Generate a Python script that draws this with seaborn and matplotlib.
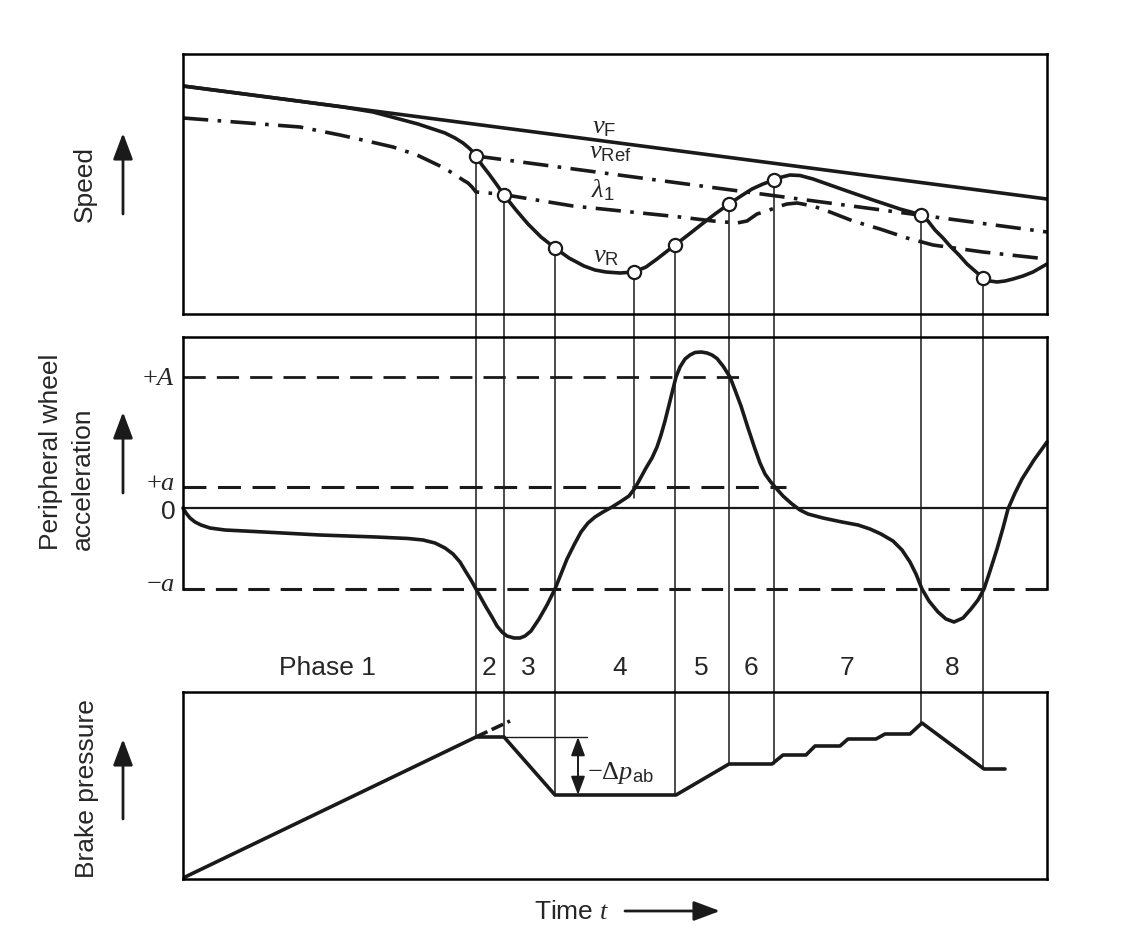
import matplotlib
matplotlib.use("Agg")
import matplotlib.pyplot as plt
import seaborn as sns
from matplotlib.patches import ConnectionPatch
from matplotlib.transforms import blended_transform_factory

# all axes are schematic, arbitrary units (time 0..864)
T_END = 864

# speed panel
vF_t = [0, 864]
vF = [228, 115]
vR_t = [0, 100, 160, 190, 205, 220, 235, 250, 262, 272, 280, 286, 290, 293, 299,
        306, 314, 321, 333, 345, 358, 372, 386, 401, 412, 423, 437, 451, 463,
        474, 483, 492, 505, 519, 532, 546, 558, 569, 580, 591, 599, 607, 617,
        630, 647, 664, 690, 717, 728, 738, 745, 752, 760, 767, 776, 784, 792,
        800, 807, 814, 822, 830, 840, 850, 857, 864]
vR = [228, 215, 207, 202, 198, 194, 190, 185, 181, 176, 171, 166, 162, 158, 149,
      140, 129, 119, 104, 90, 77, 66, 56, 48, 44, 42, 41, 42, 47,
      55, 62, 69, 79, 90, 100, 110, 118, 125, 130, 134, 137, 139, 138.5,
      135, 129, 123, 114, 105, 102, 99, 93, 84, 76, 68, 59, 50, 43,
      36, 33, 32, 33, 35, 38, 42, 46, 50]
vRef_t = [293, 864]
vRef = [158, 82]
lam_t = [0, 117, 157, 184, 210, 234, 257, 266, 274, 280, 285, 289, 293, 317, 390,
         497, 530, 554, 564, 574, 584, 594, 604, 614, 630, 647, 670, 697, 724,
         750, 800, 864]
lam = [196, 187, 179, 173, 167, 159, 148, 143, 138, 134, 131, 127, 122, 120, 108,
       97, 93, 91, 93, 100, 103, 107, 110, 111, 108, 102, 93, 85, 76,
       69, 62, 55]

# control events (circles on v_R) and where their guide lines end
event_t = [293, 321, 372, 451, 492, 546, 591, 738, 800]
event_v = [158, 119, 66, 42, 69, 110, 134, 99, 36]
event_end_panel = ["p", "p", "p", "a", "p", "p", "p", "p", "p"]
event_end = [141, 141, 83, 10, 83, 114, 114, 155, 109]

# peripheral wheel acceleration
acc_t = [0, 3, 7, 12, 18, 27, 42, 81, 137, 193, 225, 240, 252, 262, 270, 277,
         283, 288, 293, 298, 303, 309, 314, 319, 324, 331, 337, 342, 348, 356,
         364, 372, 378, 384, 391, 398, 405, 412, 420, 429, 437, 446, 452, 457,
         463, 469, 474, 478, 482, 485, 489, 493, 497, 502, 507, 512, 518, 524, 529,
         534, 540, 547, 552, 558, 565, 572, 577, 582, 587, 592, 600, 609, 617,
         625, 640, 659, 675, 687, 698, 710, 719, 727, 733, 739, 746, 755, 763,
         771, 780, 788, 795, 801, 807, 814, 820, 825, 832, 839, 851, 864]
acc = [0, -5, -10, -14, -17, -20, -22, -24, -27, -29, -30.5, -32, -35, -40, -46, -54,
       -64, -72, -81, -90, -99, -109, -118, -124, -128, -130, -130, -128, -123, -111,
       -97, -81, -66, -51, -37, -24, -15, -9, -4, 1, 6, 12, 20, 29,
       40, 50, 61, 73, 87, 99, 115, 131, 141, 149, 153, 155.5, 156, 155, 153,
       149.5, 142, 131, 118, 102, 80, 59, 45, 34, 27, 21, 12, 4, -2,
       -6, -10, -14, -17, -21, -26, -33, -42, -54, -66, -81, -93, -104, -111,
       -114, -110, -101, -92, -81, -63, -41, -20, -1, 15, 29, 48, 66]
A_hi, a_hi, a_lo = 131, 21, -81
A_hi_end, a_hi_end = 558, 603

# brake pressure
p_t = [0, 293, 321, 372, 493, 546, 589, 600, 623, 632, 657, 665, 693, 702, 727,
       739, 801, 822]
p = [0, 141, 141, 83, 83, 114, 114, 123, 123, 132, 132, 139, 139, 144, 144,
     155, 109, 109]
p_ext_t = [293, 327]
p_ext = [141, 157]
dp_t, dp_top, dp_bottom = 395, 141, 83

phase_labels = ["Phase 1", "2", "3", "4", "5", "6", "7", "8"]
phase_t = [144, 306, 345, 437, 518, 568, 664, 769]

sns.set_theme(style="white")
plt.rcParams["font.family"] = ["Liberation Sans", "DejaVu Sans"]
plt.rcParams["mathtext.fontset"] = "custom"
plt.rcParams["mathtext.rm"] = "Liberation Serif"
plt.rcParams["mathtext.it"] = "Liberation Serif:italic"
plt.rcParams["mathtext.sf"] = "Liberation Sans"
plt.rcParams["mathtext.bf"] = "Liberation Serif:bold"

FS = 19
LW = 2.6
fig = plt.figure(figsize=(11.32, 9.53), dpi=100)
fig.patch.set_facecolor("white")

W, H = 1132, 953
def box(x0, y0, x1, y1):
    return [x0 / W, 1 - y1 / H, (x1 - x0) / W, (y1 - y0) / H]

ax1 = fig.add_axes(box(183, 55, 1047, 315))
ax2 = fig.add_axes(box(183, 338, 1047, 590))
ax3 = fig.add_axes(box(183, 693, 1047, 880))
for ax in (ax1, ax2, ax3):
    ax.set_facecolor("none")
    ax.set_xlim(0, T_END)
    ax.set_xticks([])
    ax.set_yticks([])
    for s in ax.spines.values():
        s.set_color("black")
        s.set_linewidth(1.8)
ax1.set_ylim(0, 260)
ax2.set_ylim(-81, 171)
ax3.set_ylim(-1, 186)
ax2.spines["bottom"].set_visible(False)

# --- speed
sns.lineplot(x=vF_t, y=vF, ax=ax1, color="k", lw=LW, estimator=None, sort=False)
sns.lineplot(x=vR_t, y=vR, ax=ax1, color="k", lw=LW, estimator=None, sort=False)
sns.lineplot(x=vRef_t, y=vRef, ax=ax1, color="k", lw=LW, estimator=None, sort=False,
             linestyle=(0, (7, 2.6, 1, 2.6)))
sns.lineplot(x=lam_t, y=lam, ax=ax1, color="k", lw=LW, estimator=None, sort=False,
             linestyle=(0, (7, 2.6, 1, 2.6)))
sns.scatterplot(x=event_t, y=event_v, ax=ax1, s=90, color="white",
                edgecolor="k", linewidth=1.6, zorder=5)
ax1.text(409, 182, r"$v_\mathsf{F}$", fontsize=FS, ha="left", va="baseline")
ax1.text(406, 157, r"$v_\mathsf{Ref}$", fontsize=FS, ha="left", va="baseline")
ax1.text(408, 118, r"$\lambda_\mathsf{1}$", fontsize=FS, ha="left", va="baseline")
ax1.text(410, 53, r"$v_\mathsf{R}$", fontsize=FS, ha="left", va="baseline")

# --- acceleration
ax2.plot([0, A_hi_end], [A_hi, A_hi], color="k", lw=2.0, linestyle=(0, (8, 4)))
ax2.plot([0, a_hi_end], [a_hi, a_hi], color="k", lw=2.2, linestyle=(0, (7.5, 3.8)))
ax2.axhline(0, color="k", lw=1.6)
ax2.plot([0, T_END], [a_lo, a_lo], color="k", lw=2.2, linestyle=(0, (7, 3.6)),
         clip_on=False)
sns.lineplot(x=acc_t, y=acc, ax=ax2, color="k", lw=LW, estimator=None, sort=False,
             clip_on=False)
tr = blended_transform_factory(ax2.transAxes, ax2.transData)
for val, lab in [(A_hi, r"$+A$"), (a_hi + 5, r"$+a$"), (-3, "0"), (a_lo + 6, r"$-a$")]:
    ax2.text(-0.009, val, lab, transform=tr, fontsize=FS, ha="right", va="center")

# --- brake pressure
sns.lineplot(x=p_t, y=p, ax=ax3, color="k", lw=LW, estimator=None, sort=False)
ax3.plot(p_ext_t, p_ext, color="k", lw=LW, linestyle=(0, (3.5, 1.3)))
ax3.plot([321, 404], [dp_top, dp_top], color="k", lw=1.0)
ax3.annotate("", xy=(dp_t, dp_bottom), xytext=(dp_t, dp_top),
             arrowprops=dict(arrowstyle="<|-|>,head_length=0.8,head_width=0.3",
                             color="k", lw=1.4, mutation_scale=14,
                             shrinkA=0, shrinkB=0))
ax3.text(404, 106, r"$-\Delta p_\mathsf{ab}$", fontsize=FS, ha="left", va="center")
for t, lab in zip(phase_t, phase_labels):
    ax3.text(t, 211, lab, fontsize=FS, ha="center", va="center")

# guide lines from the control points down to the other panels
for t, v, panel, end in zip(event_t, event_v, event_end_panel, event_end):
    axB = ax3 if panel == "p" else ax2
    con = ConnectionPatch(xyA=(t, v), coordsA=ax1.transData,
                          xyB=(t, end), coordsB=axB.transData,
                          color="k", lw=1.1, zorder=-1)
    fig.add_artist(con)

# axis titles with arrows
arrow = dict(arrowstyle="-|>,head_length=0.8,head_width=0.3", color="k",
             lw=2.0, mutation_scale=20, shrinkA=0, shrinkB=0)
fig.text(85 / W, 1 - 184 / H, "Speed", rotation=90, fontsize=FS,
         ha="center", va="center")
fig.text(67 / W, 1 - 452 / H, "Peripheral wheel\nacceleration", rotation=90,
         fontsize=FS, ha="center", va="center", multialignment="left",
         linespacing=1.45)
fig.text(87 / W, 1 - 789 / H, "Brake pressure", rotation=90, fontsize=FS,
         ha="center", va="center")
for y0, y1 in [(215, 134), (494, 413), (820, 740)]:
    ax1.annotate("", xy=(123 / W, 1 - y1 / H), xycoords="figure fraction",
                 xytext=(123 / W, 1 - y0 / H), textcoords="figure fraction",
                 arrowprops=arrow)
fig.text(534 / W, 1 - 912 / H, "Time $t$", fontsize=FS, ha="left", va="center")
ax1.annotate("", xy=(720 / W, 1 - 912 / H), xycoords="figure fraction",
             xytext=(625 / W, 1 - 912 / H), textcoords="figure fraction",
             arrowprops=arrow)

fig.savefig("out.png", dpi=100)
